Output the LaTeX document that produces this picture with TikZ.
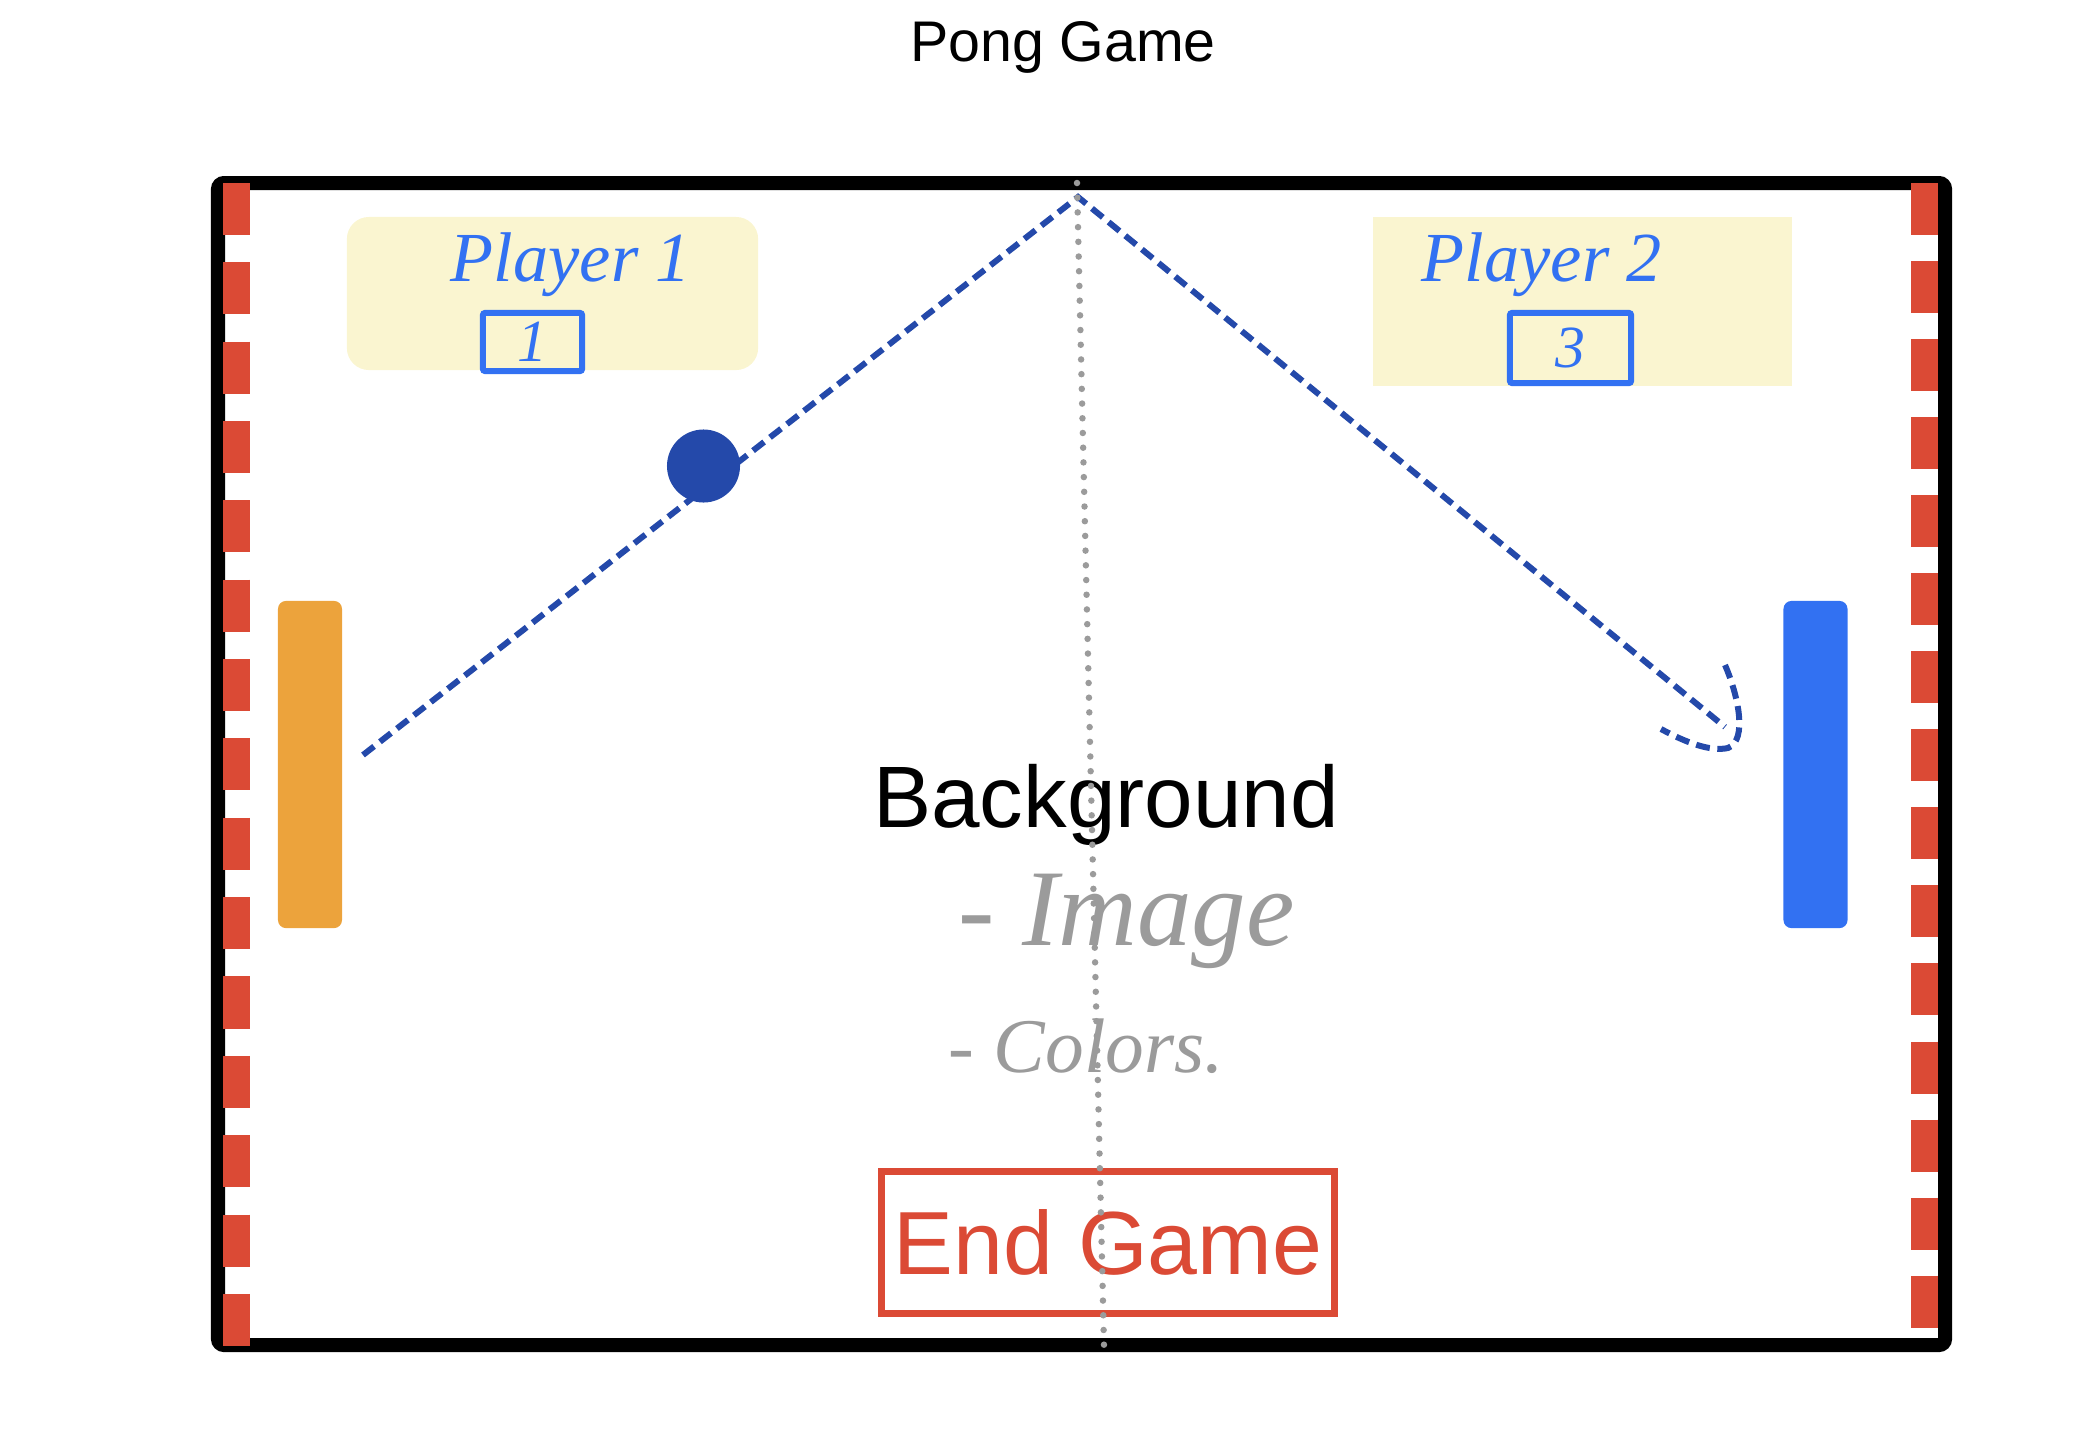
\documentclass[tikz,border=0pt]{standalone}
\usepackage{fontspec}
\setmainfont{Liberation Sans}
\newfontfamily\handfont{Liberation Serif}
\usepackage{tikz}
\usetikzlibrary{positioning}
\definecolor{wallred}{RGB}{219,74,53}
\definecolor{inkblue}{RGB}{50,113,242}
\definecolor{trailblue}{RGB}{36,73,170}
\definecolor{notepad}{RGB}{250,245,208}
\definecolor{padorange}{RGB}{236,163,60}
\definecolor{netgray}{RGB}{155,155,155}
\newcommand{\hand}{\handfont\itshape}

\begin{document}
\begin{tikzpicture}[x=0.01cm,y=-0.01cm,
  wall/.style={draw=wallred,line width=0.27cm,dash pattern=on 0.52cm off 0.273cm},
  card/.style={fill=notepad,draw=none,inner sep=0pt},
  player/.style={text=inkblue,anchor=base,inner sep=0pt,font={\hand\fontsize{20pt}{24pt}\selectfont}},
  score/.style={draw=inkblue,line width=0.06cm,rounded corners=0.02cm,inner sep=0pt,text=inkblue,font={\hand\fontsize{17pt}{20pt}\selectfont}},
  paddle/.style={draw=none,minimum width=0.64cm,minimum height=3.27cm,rounded corners=0.08cm,inner sep=0pt},
  trail/.style={draw=trailblue,line width=0.06cm,dash pattern=on 0.14cm off 0.075cm},
  note/.style={text=netgray,anchor=base west,inner sep=0pt},
  net/.style={draw=netgray,line width=0.065cm,line cap=round,dash pattern=on 0pt off 0.147cm}]

  \useasboundingbox (0,0) rectangle (2096,1439);
  \node[anchor=base,inner sep=0pt,font={\fontsize{16.3pt}{19pt}\selectfont}] (title) at (1063,61) {Pong Game};

  % playing field with the red walls on both sides
  \draw[line width=0.14cm,rounded corners=0.06cm] (218,183) rectangle (1945,1345);
  \draw[wall] (236.5,183) -- (236.5,1347);
  \draw[wall,dash pattern=on 0.52cm off 0.26cm] (1924,183) -- (1924,1328);

  % score cards
  \node[card,rounded corners=0.22cm,minimum width=4.11cm,minimum height=1.53cm] (card1) at (552.5,293.5) {};
  \node[card,minimum width=4.19cm,minimum height=1.69cm] (card2) at (1582.5,301.5) {};
  \node[player] (p1) at (571,281) {Player 1};
  \node[player] (p2) at (1542,281) {Player 2};
  \node[score,minimum width=0.99cm,minimum height=0.58cm] (s1) at (532.5,342) {1};
  \node[score,minimum width=1.21cm,minimum height=0.70cm] (s2) at (1570.5,348) {3};

  % paddles
  \node[paddle,fill=padorange] (padL) at (310,764.5) {};
  \node[paddle,fill=inkblue] (padR) at (1815.5,764.5) {};

  % ball path, bouncing off the top
  \coordinate (serve) at (363,755);
  \coordinate (bounce) at (1078,197);
  \coordinate (tip) at (1725,727);
  \draw[trail] (serve) -- (bounce) -- (tip);
  \draw[trail] (1725,665) .. controls (1738,695) and (1748,740) .. (1728,748)
    .. controls (1710,752) and (1685,742) .. (1661,729);
  \node[circle,fill=trailblue,minimum size=0.73cm,inner sep=0pt] (ball) at (703.5,466) {};

  % background notes and button
  \node[anchor=base,inner sep=0pt,font={\fontsize{24.8pt}{29pt}\selectfont}] (bg) at (1106,827) {Background};
  \node[note,font={\hand\fontsize{31pt}{36pt}\selectfont}] (img) at (958,945) {- Image};
  \node[note,font={\hand\fontsize{22pt}{26pt}\selectfont}] (col) at (948,1072) {- Colors.};
  \node[draw=wallred,line width=0.07cm,text=wallred,minimum width=4.53cm,minimum height=1.42cm,
        inner sep=0pt,font={\fontsize{25.5pt}{30pt}\selectfont}] (endgame) at (1108,1242.5) {End Game};

  % centre net
  \coordinate (nettop) at (1077,183);
  \coordinate (netbot) at (1104,1346);
  \draw[net] (nettop) -- (netbot);
\end{tikzpicture}
\end{document}
